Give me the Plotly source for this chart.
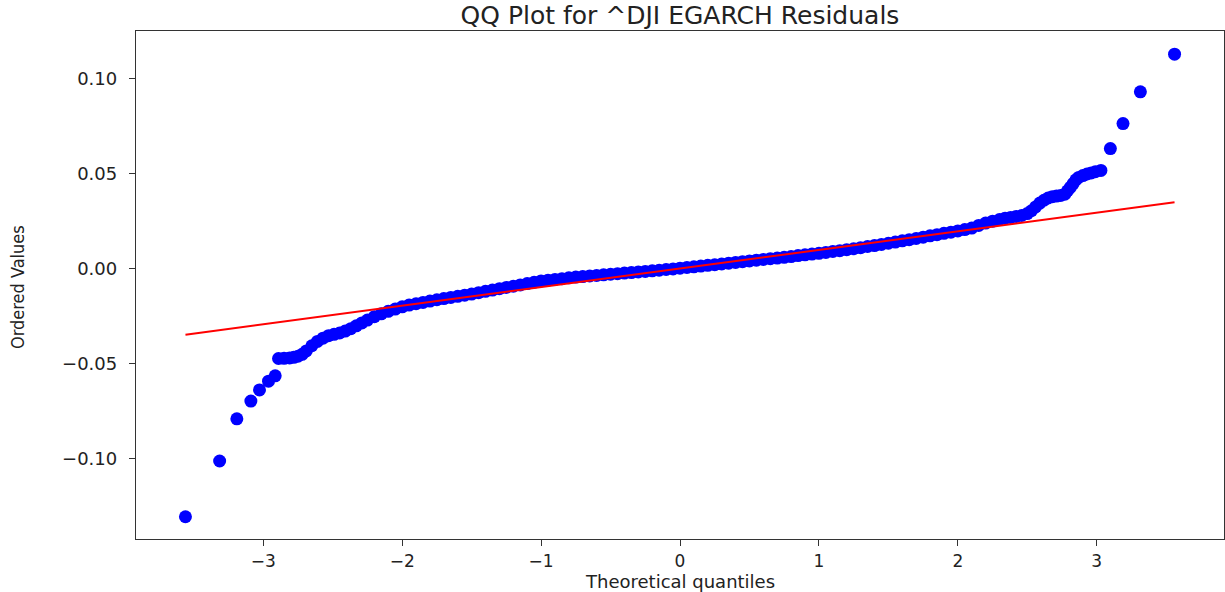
import plotly.graph_objects as go

# ---- data ----
left_tail_q = [-3.56, -3.314, -3.19, -3.089, -3.027, -2.962, -2.914]
left_tail_v = [-0.1304, -0.1011, -0.0789, -0.0696, -0.0637, -0.0591, -0.0563]

left_band_q = [-2.89, -2.85, -2.81, -2.78, -2.75, -2.72, -2.69, -2.65, -2.61, -2.57,
               -2.53, -2.49, -2.45, -2.41, -2.37, -2.33, -2.29, -2.25, -2.20, -2.15,
               -2.10, -2.05, -2.00, -1.95]
left_band_v = [-0.0472, -0.0471, -0.0469, -0.0466, -0.0460, -0.0450, -0.0432, -0.0405, -0.0382, -0.0365,
               -0.0352, -0.0345, -0.0338, -0.0328, -0.0315, -0.0300, -0.0285, -0.0270, -0.0252, -0.0237,
               -0.0224, -0.0212, -0.0200, -0.0191]

mid_q = [-1.90, -1.85, -1.80, -1.75, -1.70, -1.65, -1.60, -1.55, -1.50, -1.45,
         -1.40, -1.35, -1.30, -1.25, -1.20, -1.15, -1.10, -1.05, -1.00, -0.95,
         -0.90, -0.85, -0.80, -0.75, -0.70, -0.65, -0.60, -0.55, -0.50, -0.45,
         -0.40, -0.35, -0.30, -0.25, -0.20, -0.15, -0.10, -0.05, 0.00, 0.05,
         0.10, 0.15, 0.20, 0.25, 0.30, 0.35, 0.40, 0.45, 0.50, 0.55,
         0.60, 0.65, 0.70, 0.75, 0.80, 0.85, 0.90, 0.95, 1.00, 1.05,
         1.10, 1.15, 1.20, 1.25, 1.30, 1.35, 1.40, 1.45, 1.50, 1.55,
         1.60, 1.65, 1.70, 1.75, 1.80, 1.85, 1.90]
mid_v = [-0.0184, -0.0177, -0.0170, -0.0163, -0.0157, -0.0151, -0.0145, -0.0139, -0.0133, -0.0126,
         -0.0119, -0.0112, -0.0105, -0.0098, -0.0092, -0.0085, -0.0078, -0.0071, -0.0064, -0.0060,
         -0.0056, -0.0052, -0.0048, -0.0044, -0.0041, -0.0038, -0.0035, -0.0032, -0.0029, -0.0026,
         -0.0023, -0.0020, -0.0017, -0.0014, -0.0011, -0.0008, -0.0004, -0.0001, 0.0003, 0.0007,
         0.0010, 0.0014, 0.0018, 0.0021, 0.0025, 0.0029, 0.0033, 0.0037, 0.0041, 0.0045,
         0.0049, 0.0053, 0.0056, 0.0060, 0.0064, 0.0069, 0.0073, 0.0077, 0.0081, 0.0086,
         0.0091, 0.0095, 0.0100, 0.0105, 0.0111, 0.0117, 0.0122, 0.0128, 0.0134, 0.0140,
         0.0147, 0.0153, 0.0159, 0.0166, 0.0173, 0.0179, 0.0186]

right_band_q = [1.95, 2.00, 2.05, 2.10, 2.15, 2.20, 2.25, 2.30, 2.34, 2.38,
                2.42, 2.46, 2.50, 2.53, 2.56, 2.59, 2.62, 2.65, 2.68, 2.71,
                2.74, 2.77, 2.79, 2.81, 2.83, 2.85, 2.87, 2.90, 2.93, 2.96,
                2.99, 3.03]
right_band_v = [0.0192, 0.0199, 0.0206, 0.0214, 0.0228, 0.0240, 0.0250, 0.0259, 0.0266, 0.0270,
                0.0275, 0.0280, 0.0290, 0.0305, 0.0325, 0.0345, 0.0360, 0.0372, 0.0379, 0.0382,
                0.0385, 0.0392, 0.0410, 0.0428, 0.0448, 0.0468, 0.0480, 0.0490, 0.0498, 0.0504,
                0.0510, 0.0517]

right_tail_q = [3.098, 3.189, 3.314, 3.56]
right_tail_v = [0.0632, 0.0763, 0.0930, 0.1128]

fit_line_q = [-3.56, 3.56]
fit_line_v = [-0.0347, 0.0349]

x_tick_vals = [-3, -2, -1, 0, 1, 2, 3]
x_tick_text = ["\u22123", "\u22122", "\u22121", "0", "1", "2", "3"]
y_tick_vals = [-0.10, -0.05, 0.00, 0.05, 0.10]
y_tick_text = ["\u22120.10", "\u22120.05", "0.00", "0.05", "0.10"]

title_text = "QQ Plot for ^DJI EGARCH Residuals"
x_title = "Theoretical quantiles"
y_title = "Ordered Values"

# ---- figure ----
theoretical_q = left_tail_q + left_band_q + mid_q + right_band_q + right_tail_q
ordered_v = left_tail_v + left_band_v + mid_v + right_band_v + right_tail_v

W, H = 1225, 592
ML, MR, MT, MB = 136, 1, 31, 53
PW, PH = W - ML - MR, H - MT - MB

fig = go.Figure()
fig.add_trace(go.Scatter(
    x=theoretical_q, y=ordered_v, mode="markers",
    marker=dict(color="#0000ff", size=13, line=dict(width=0)),
    showlegend=False, hoverinfo="skip"))
fig.add_trace(go.Scatter(
    x=fit_line_q, y=fit_line_v, mode="lines",
    line=dict(color="#ff0000", width=2),
    showlegend=False, hoverinfo="skip"))

font_main = "DejaVu Sans, Verdana, sans-serif"
axis_common = dict(
    showgrid=False, zeroline=False, showline=True, mirror=True,
    linecolor="#333333", linewidth=1.3,
    ticks="outside", ticklen=6, tickwidth=1.3, tickcolor="#333333",
)

fig.update_layout(
    width=W, height=H, autosize=False,
    margin=dict(l=ML, r=MR, t=MT, b=MB, pad=0),
    paper_bgcolor="white", plot_bgcolor="white",
    title=dict(text=title_text, x=0.5, xref="paper", xanchor="center",
               y=1 - 15.5 / H, yref="container", yanchor="middle",
               font=dict(family=font_main, size=25, color="#222222")),
    xaxis=dict(range=[-3.916, 3.916], tickmode="array",
               tickvals=x_tick_vals, ticktext=x_tick_text,
               ticklabelstandoff=0,
               tickfont=dict(family=font_main, size=17, color="#222222"),
               **axis_common),
    yaxis=dict(range=[-0.1421, 0.1250], tickmode="array",
               tickvals=y_tick_vals, ticktext=y_tick_text,
               ticklabelstandoff=8,
               tickfont=dict(family=font_main, size=18, color="#222222"),
               **axis_common),
    annotations=[
        dict(text=x_title, xref="paper", yref="paper",
             x=(680 - ML) / PW, y=-(581 - (MT + PH)) / PH,
             xanchor="center", yanchor="middle", showarrow=False,
             font=dict(family=font_main, size=18, color="#222222")),
        dict(text=y_title, xref="paper", yref="paper",
             x=(17 - ML) / PW, y=(MT + PH - 287) / PH,
             xanchor="center", yanchor="middle", showarrow=False, textangle=-90,
             font=dict(family="Liberation Sans Narrow, Arial Narrow, DejaVu Sans Condensed, sans-serif",
                       size=18, color="#222222")),
    ],
)

fig.write_html("out.html")
